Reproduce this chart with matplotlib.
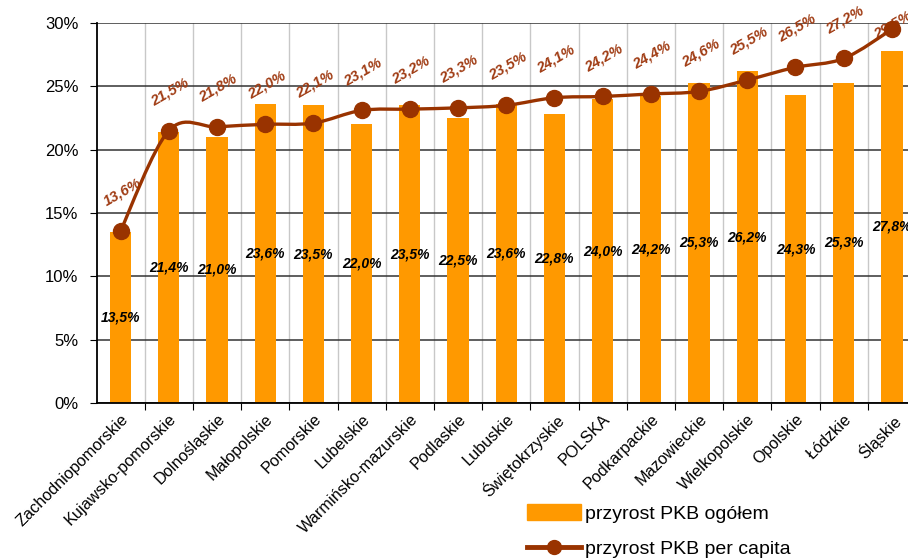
import matplotlib.pyplot as plt
import numpy as np
from matplotlib.path import Path
from matplotlib.patches import PathPatch
from matplotlib.lines import Line2D
from matplotlib.patches import Patch

plt.rcParams['font.family'] = ['Liberation Sans', 'DejaVu Sans']

regions = ['Zachodniopomorskie', 'Kujawsko-pomorskie', 'Dolnośląskie', 'Małopolskie',
           'Pomorskie', 'Lubelskie', 'Warmińsko-mazurskie', 'Podlaskie', 'Lubuskie',
           'Świętokrzyskie', 'POLSKA', 'Podkarpackie', 'Mazowieckie', 'Wielkopolskie',
           'Opolskie', 'Łódzkie', 'Śląskie']
pkb_total = [13.5, 21.4, 21.0, 23.6, 23.5, 22.0, 23.5, 22.5, 23.6, 22.8,
             24.0, 24.2, 25.3, 26.2, 24.3, 25.3, 27.8]
pkb_capita = [13.6, 21.5, 21.8, 22.0, 22.1, 23.1, 23.2, 23.3, 23.5, 24.1,
              24.2, 24.4, 24.6, 25.5, 26.5, 27.2, 29.5]

bar_color = '#FF9900'
line_color = '#993300'

fig = plt.figure(figsize=(9.08, 5.59), dpi=100)
ax = fig.add_axes([96.5 / 908, 1 - 403 / 559, (916 - 96.5) / 908, (403 - 23) / 559])

x = np.arange(len(regions))
ax.bar(x, pkb_total, width=0.44, color=bar_color, zorder=2)

# smoothed line (Catmull-Rom -> cubic Bezier through the data points)
y = np.array(pkb_capita)
verts = [(x[0], y[0])]
codes = [Path.MOVETO]
for i in range(len(x) - 1):
    p0 = (x[max(i - 1, 0)], y[max(i - 1, 0)])
    p1 = (x[i], y[i])
    p2 = (x[i + 1], y[i + 1])
    p3 = (x[min(i + 2, len(x) - 1)], y[min(i + 2, len(x) - 1)])
    c1 = (p1[0] + (p2[0] - p0[0]) / 6, p1[1] + (p2[1] - p0[1]) / 6)
    c2 = (p2[0] - (p3[0] - p1[0]) / 6, p2[1] - (p3[1] - p1[1]) / 6)
    verts += [c1, c2, p2]
    codes += [Path.CURVE4] * 3
ax.add_patch(PathPatch(Path(verts, codes), fill=False, edgecolor=line_color,
                       lw=2.4, zorder=4, clip_on=False))
ax.plot(x, y, 'o', color=line_color, markersize=11.5, zorder=5, clip_on=False)

# labels
for i, v in enumerate(pkb_total):
    ax.text(x[i], v / 2, f'{v:.1f}%'.replace('.', ','), ha='center', va='center',
            fontsize=10, fontweight='bold', style='italic', color='black', zorder=6)
for i, v in enumerate(pkb_capita):
    dy = 28 if i < len(pkb_capita) - 1 else 3
    ax.annotate(f'{v:.1f}%'.replace('.', ','), (x[i], v), xytext=(1, dy),
                textcoords='offset points', ha='center', va='center', rotation=30,
                fontsize=10.5, fontweight='bold', style='italic', color='#A03C14',
                zorder=3, annotation_clip=False)

ax.set_xlim(-0.5, len(regions) - 0.5)
ax.set_ylim(0, 30)
ax.set_yticks(np.arange(0, 31, 5))
ax.set_yticklabels([f'{t}%' for t in range(0, 31, 5)], fontsize=12)
ax.set_xticks(x + 0.5, minor=False)
ax.set_xticklabels([])
ax.set_xticks(x, minor=True)
ax.set_xticklabels(regions, minor=True, rotation=45, ha='right',
                   rotation_mode='anchor', fontsize=11.7)
ax.tick_params(axis='x', which='minor', length=0, pad=6)
ax.tick_params(axis='x', which='major', length=5, direction='out', color='black')
ax.tick_params(axis='y', length=5, direction='out', pad=8)

ax.grid(axis='y', color='#333333', lw=1.1, zorder=1)
ax.grid(axis='x', which='major', color='#c8c8c8', lw=1.0, zorder=1)
ax.set_axisbelow(True)
for s in ['top', 'right']:
    ax.spines[s].set_visible(False)
ax.spines['left'].set_linewidth(1.3)
ax.spines['bottom'].set_linewidth(1.3)

handles = [Patch(color=bar_color),
           Line2D([], [], color=line_color, lw=3.5, marker='o', markersize=10)]
fig.legend(handles, ['przyrost PKB ogółem', 'przyrost PKB per capita'],
           loc='upper left', bbox_to_anchor=(527 / 908, 1 - 504 / 559),
           frameon=False, fontsize=14, handlelength=2.8, handleheight=0.9,
           labelspacing=0.85, handletextpad=0.2, borderpad=0, borderaxespad=0)

fig.savefig('out.png', dpi=100)
